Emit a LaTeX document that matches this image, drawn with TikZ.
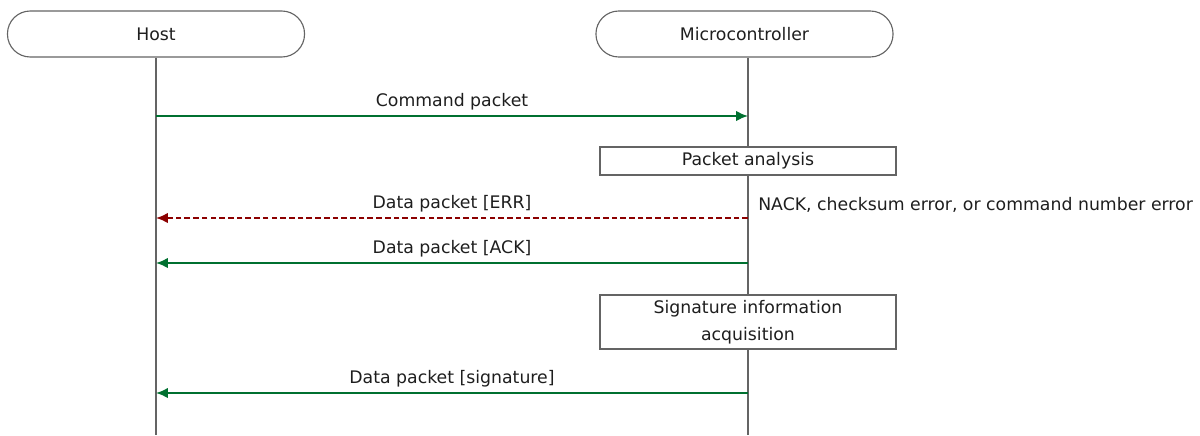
\documentclass[tikz,border=0pt]{standalone}
\usepackage{fontspec}
\setmainfont{DejaVu Sans}
\usetikzlibrary{arrows.meta}
\definecolor{msggreen}{RGB}{0,112,48}
\definecolor{errred}{RGB}{140,0,0}
\definecolor{lifegray}{RGB}{100,100,100}
\definecolor{txtgray}{RGB}{30,30,30}
\begin{document}
\begin{tikzpicture}[x=0.025cm,y=-0.025cm,
	every node/.style={font=\fontsize{12.3}{19}\selectfont,text=txtgray},
	actor/.style={draw=lifegray,line width=0.8pt,rounded corners=0.57cm,minimum width=7.425cm,minimum height=1.15cm},
	procbox/.style={draw=lifegray,fill=white,line width=0.8pt,minimum width=7.4cm,align=center,inner sep=0pt},
	lifeline/.style={draw=lifegray,line width=1pt},
	msg/.style={draw=msggreen,line width=1.4pt,-{Latex[length=8.5pt,width=7.5pt]}},
	errmsg/.style={msg,draw=errred,dash pattern=on 4pt off 2.2pt}]
	\useasboundingbox (0,0) rectangle (1200,435);
	% actors and lifelines
	\node[actor] (host) at (156,34) {Host};
	\node[actor] (mcu) at (744.5,34) {Microcontroller};
	\coordinate (hostend) at (156,435);
	\coordinate (mcuend) at (748,435);
	\draw[lifeline] (host.south) -- (hostend);
	\draw[lifeline] (mcu.south -| mcuend) -- (mcuend);
	% command packet
	\draw[msg] (hostend |- 0,116) -- (mcuend |- 0,116) node[midway,above=0.5pt] {Command packet};
	% analysis
	\node[procbox,minimum height=0.7cm] (analysis) at (748,161) {Packet analysis};
	% error reply
	\draw[errmsg] (mcuend |- 0,218) -- (hostend |- 0,218) node[midway,above=0.5pt] {Data packet [ERR]};
	\node[anchor=base west,inner sep=0pt] (nack) at (758,210) {NACK, checksum error, or command number error};
	% ack reply
	\draw[msg] (mcuend |- 0,263) -- (hostend |- 0,263) node[midway,above=0.5pt] {Data packet [ACK]};
	% signature
	\node[procbox,minimum height=1.35cm] (sigacq) at (748,322) {Signature information\\acquisition};
	\draw[msg] (mcuend |- 0,393) -- (hostend |- 0,393) node[midway,above=0.5pt] {Data packet [signature]};
\end{tikzpicture}
\end{document}
